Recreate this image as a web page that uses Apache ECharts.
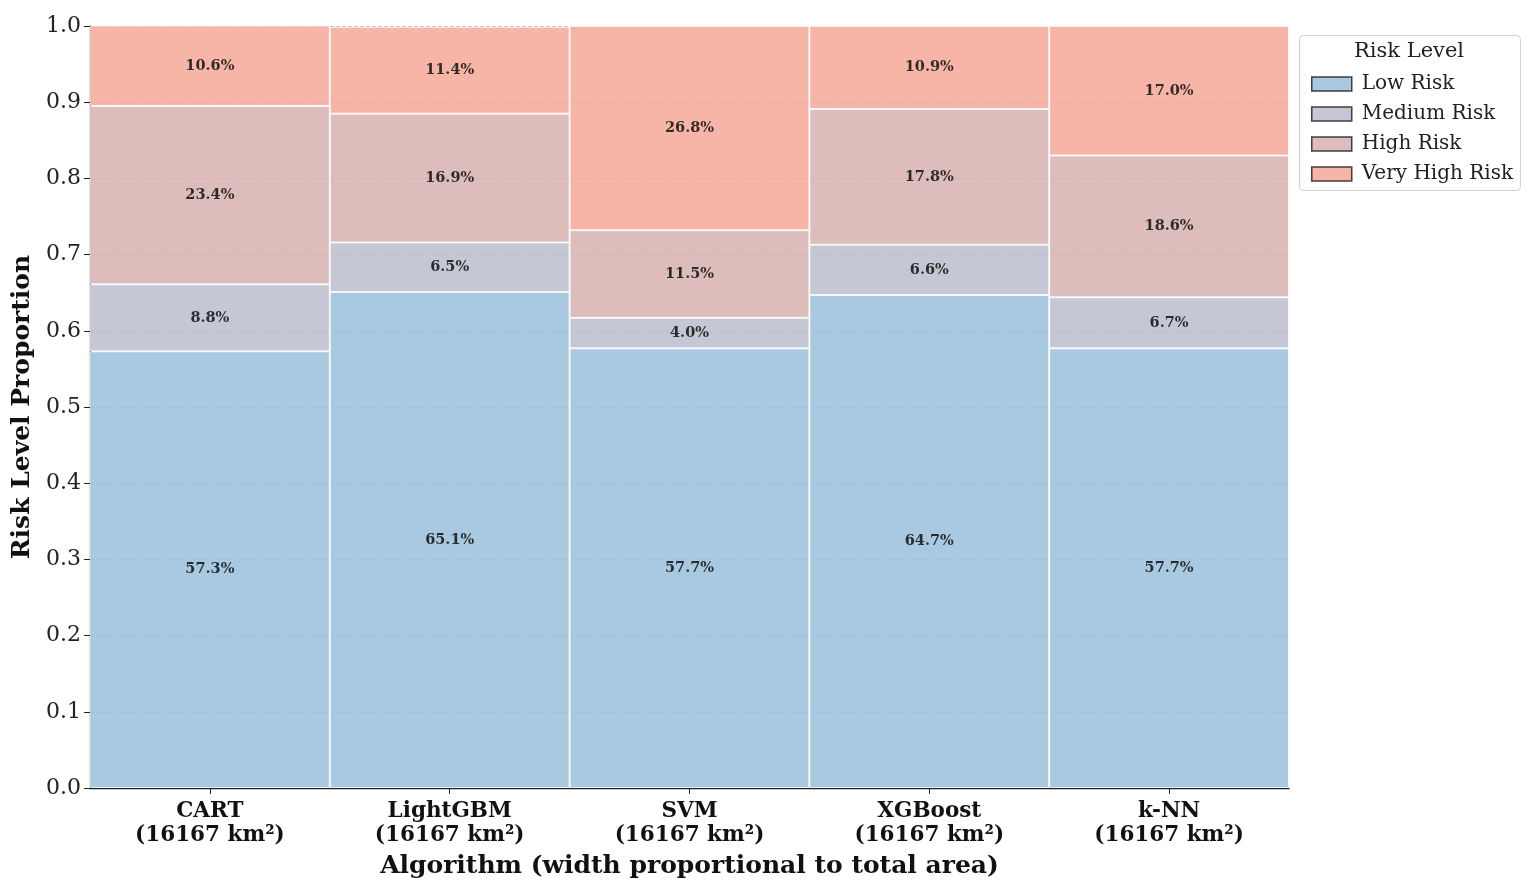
<!DOCTYPE html>
<html>
<head>
<meta charset="utf-8">
<script src="https://cdn.jsdelivr.net/npm/echarts@6/dist/echarts.min.js"></script>
<style>
html,body{margin:0;padding:0;background:#fff;}
#chart{width:1535px;height:888px;}
</style>
</head>
<body>
<div id="chart"></div>
<script>
const algorithms = ['CART', 'LightGBM', 'SVM', 'XGBoost', 'k-NN'];
const areaLabels = ['16167 km²', '16167 km²', '16167 km²', '16167 km²', '16167 km²'];
const riskLevels = ['Low Risk', 'Medium Risk', 'High Risk', 'Very High Risk'];
const lowRisk = [57.3, 65.1, 57.7, 64.7, 57.7];
const mediumRisk = [8.8, 6.5, 4.0, 6.6, 6.7];
const highRisk = [23.4, 16.9, 11.5, 17.8, 18.6];
const veryHighRisk = [10.6, 11.4, 26.8, 10.9, 17.0];
const yTicks = [0.0, 0.1, 0.2, 0.3, 0.4, 0.5, 0.6, 0.7, 0.8, 0.9, 1.0];

const seriesValues = [lowRisk, mediumRisk, highRisk, veryHighRisk];
const colors = ['#9abfdc', '#bcbdcc', '#d6b1b0', '#f6a898'];
const SERIF = '"DejaVu Serif", serif';

const chart = echarts.init(document.getElementById('chart'));
const series = riskLevels.map((name, i) => ({
  name: name,
  type: 'bar',
  stack: 'total',
  barCategoryGap: '0%',
  data: seriesValues[i].map(v => v / 100),
  itemStyle: { color: colors[i], opacity: 0.85, borderColor: 'rgba(255,255,255,0.85)', borderWidth: 1 },
  label: {
    show: true,
    position: 'inside',
    formatter: p => (p.value * 100).toFixed(1) + '%',
    color: '#111',
    fontFamily: SERIF,
    fontWeight: 'bold',
    fontSize: 14.5
  },
  emphasis: { disabled: true }
}));

chart.setOption({
  animation: false,
  backgroundColor: '#fff',
  grid: { left: 90, right: 246, top: 26, bottom: 100, containLabel: false },
  xAxis: {
    type: 'category',
    data: algorithms.map((a, i) => a + '\n(' + areaLabels[i] + ')'),
    boundaryGap: true,
    name: 'Algorithm (width proportional to total area)',
    nameLocation: 'middle',
    nameGap: 66,
    nameTextStyle: { fontFamily: SERIF, fontWeight: 'bold', fontSize: 25, color: '#111' },
    axisLine: { show: true, lineStyle: { color: '#222', width: 1.3 } },
    axisTick: { show: true, alignWithLabel: true, length: 6, lineStyle: { color: '#222' } },
    axisLabel: { fontFamily: SERIF, fontWeight: 'bold', fontSize: 21.5, color: '#111', lineHeight: 24, margin: 11 },
    splitLine: { show: false }
  },
  yAxis: {
    type: 'value',
    min: 0,
    max: 1,
    interval: 0.1,
    name: 'Risk Level Proportion',
    nameLocation: 'middle',
    nameGap: 55,
    nameTextStyle: { fontFamily: SERIF, fontWeight: 'bold', fontSize: 25, color: '#111' },
    axisLine: { show: true, lineStyle: { color: '#222', width: 1.3 } },
    axisTick: { show: true, length: 6, lineStyle: { color: '#222' } },
    axisLabel: { fontFamily: SERIF, fontSize: 22, color: '#222', margin: 9,
      formatter: v => { const t = yTicks.find(x => Math.abs(x - v) < 1e-6); return (t !== undefined ? t : v).toFixed(1); } },
    splitLine: { show: true, lineStyle: { color: '#b0b8c4', type: 'dashed', width: 1 } }
  },
  legend: {
    data: riskLevels,
    orient: 'vertical',
    left: 1306,
    top: 69,
    icon: 'rect',
    itemWidth: 40,
    itemHeight: 14,
    itemGap: 10,
    itemStyle: { borderColor: '#222', borderWidth: 1.5 },
    textStyle: { fontFamily: SERIF, fontSize: 20, color: '#222', padding: [0, 0, 0, 5] },
    selectedMode: false
  },
  graphic: [
    { type: 'rect', left: 1299, top: 35, z: -1,
      shape: { width: 221, height: 155, r: 4 },
      style: { fill: '#fff', stroke: '#d0d0d0', lineWidth: 1 } },
    { type: 'text', left: 1354, top: 41,
      style: { text: 'Risk Level', font: '21px "DejaVu Serif", serif', fill: '#222' } }
  ],
  series: series
});
</script>
</body>
</html>
